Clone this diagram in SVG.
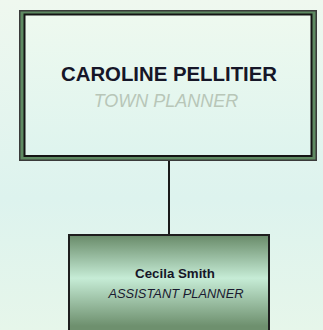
<svg xmlns="http://www.w3.org/2000/svg" width="323" height="330" viewBox="0 0 323 330">
  <defs>
    <linearGradient id="bg" x1="0" y1="0" x2="0" y2="330" gradientUnits="userSpaceOnUse">
      <stop offset="0" stop-color="#eff8ef"/>
      <stop offset="0.6" stop-color="#ddf3ee"/>
      <stop offset="1" stop-color="#e6f6ea"/>
    </linearGradient>
    <linearGradient id="topFill" x1="0" y1="15" x2="0" y2="156" gradientUnits="userSpaceOnUse">
      <stop offset="0" stop-color="#eef9ef"/>
      <stop offset="1" stop-color="#def4ee"/>
    </linearGradient>
    <linearGradient id="subFill" x1="0" y1="234" x2="0" y2="326" gradientUnits="userSpaceOnUse">
      <stop offset="0" stop-color="#668866"/>
      <stop offset="0.48" stop-color="#c6ecd6"/>
      <stop offset="1" stop-color="#6e906e"/>
    </linearGradient>
  </defs>
  <style>
    .name { font-family: "Liberation Sans", Arial, sans-serif; font-weight: bold; fill: #161628; text-anchor: middle; }
    .title { font-family: "Liberation Sans", Arial, sans-serif; font-style: italic; text-anchor: middle; }
    .conn { stroke: #1a1a1a; stroke-width: 2; fill: none; }
  </style>
  <rect x="0" y="0" width="323" height="330" fill="url(#bg)"/>
  <g id="connectors">
    <line class="conn" x1="169" y1="160" x2="169" y2="235"/>
  </g>
  <g id="node-caroline">
    <rect x="19" y="10" width="298" height="151" fill="#3a3a3a"/>
    <rect x="20.5" y="11.5" width="295" height="148" fill="#5e8a62"/>
    <rect x="23.5" y="13.5" width="289" height="143.5" fill="#141414"/>
    <rect x="25.5" y="15.5" width="285" height="139.5" fill="url(#topFill)"/>
    <text class="name" x="169" y="81" font-size="21" textLength="216" lengthAdjust="spacingAndGlyphs">CAROLINE PELLITIER</text>
    <text class="title" x="166" y="107" font-size="18" fill="#b8c6b8">TOWN PLANNER</text>
  </g>
  <g id="node-cecila">
    <rect x="69" y="235" width="200" height="110" fill="url(#subFill)" stroke="#1e1e1e" stroke-width="2"/>
    <text class="name" x="175" y="278" font-size="13.3">Cecila Smith</text>
    <text class="title" x="176" y="298" font-size="12.9" fill="#1a1a30">ASSISTANT PLANNER</text>
  </g>
</svg>
